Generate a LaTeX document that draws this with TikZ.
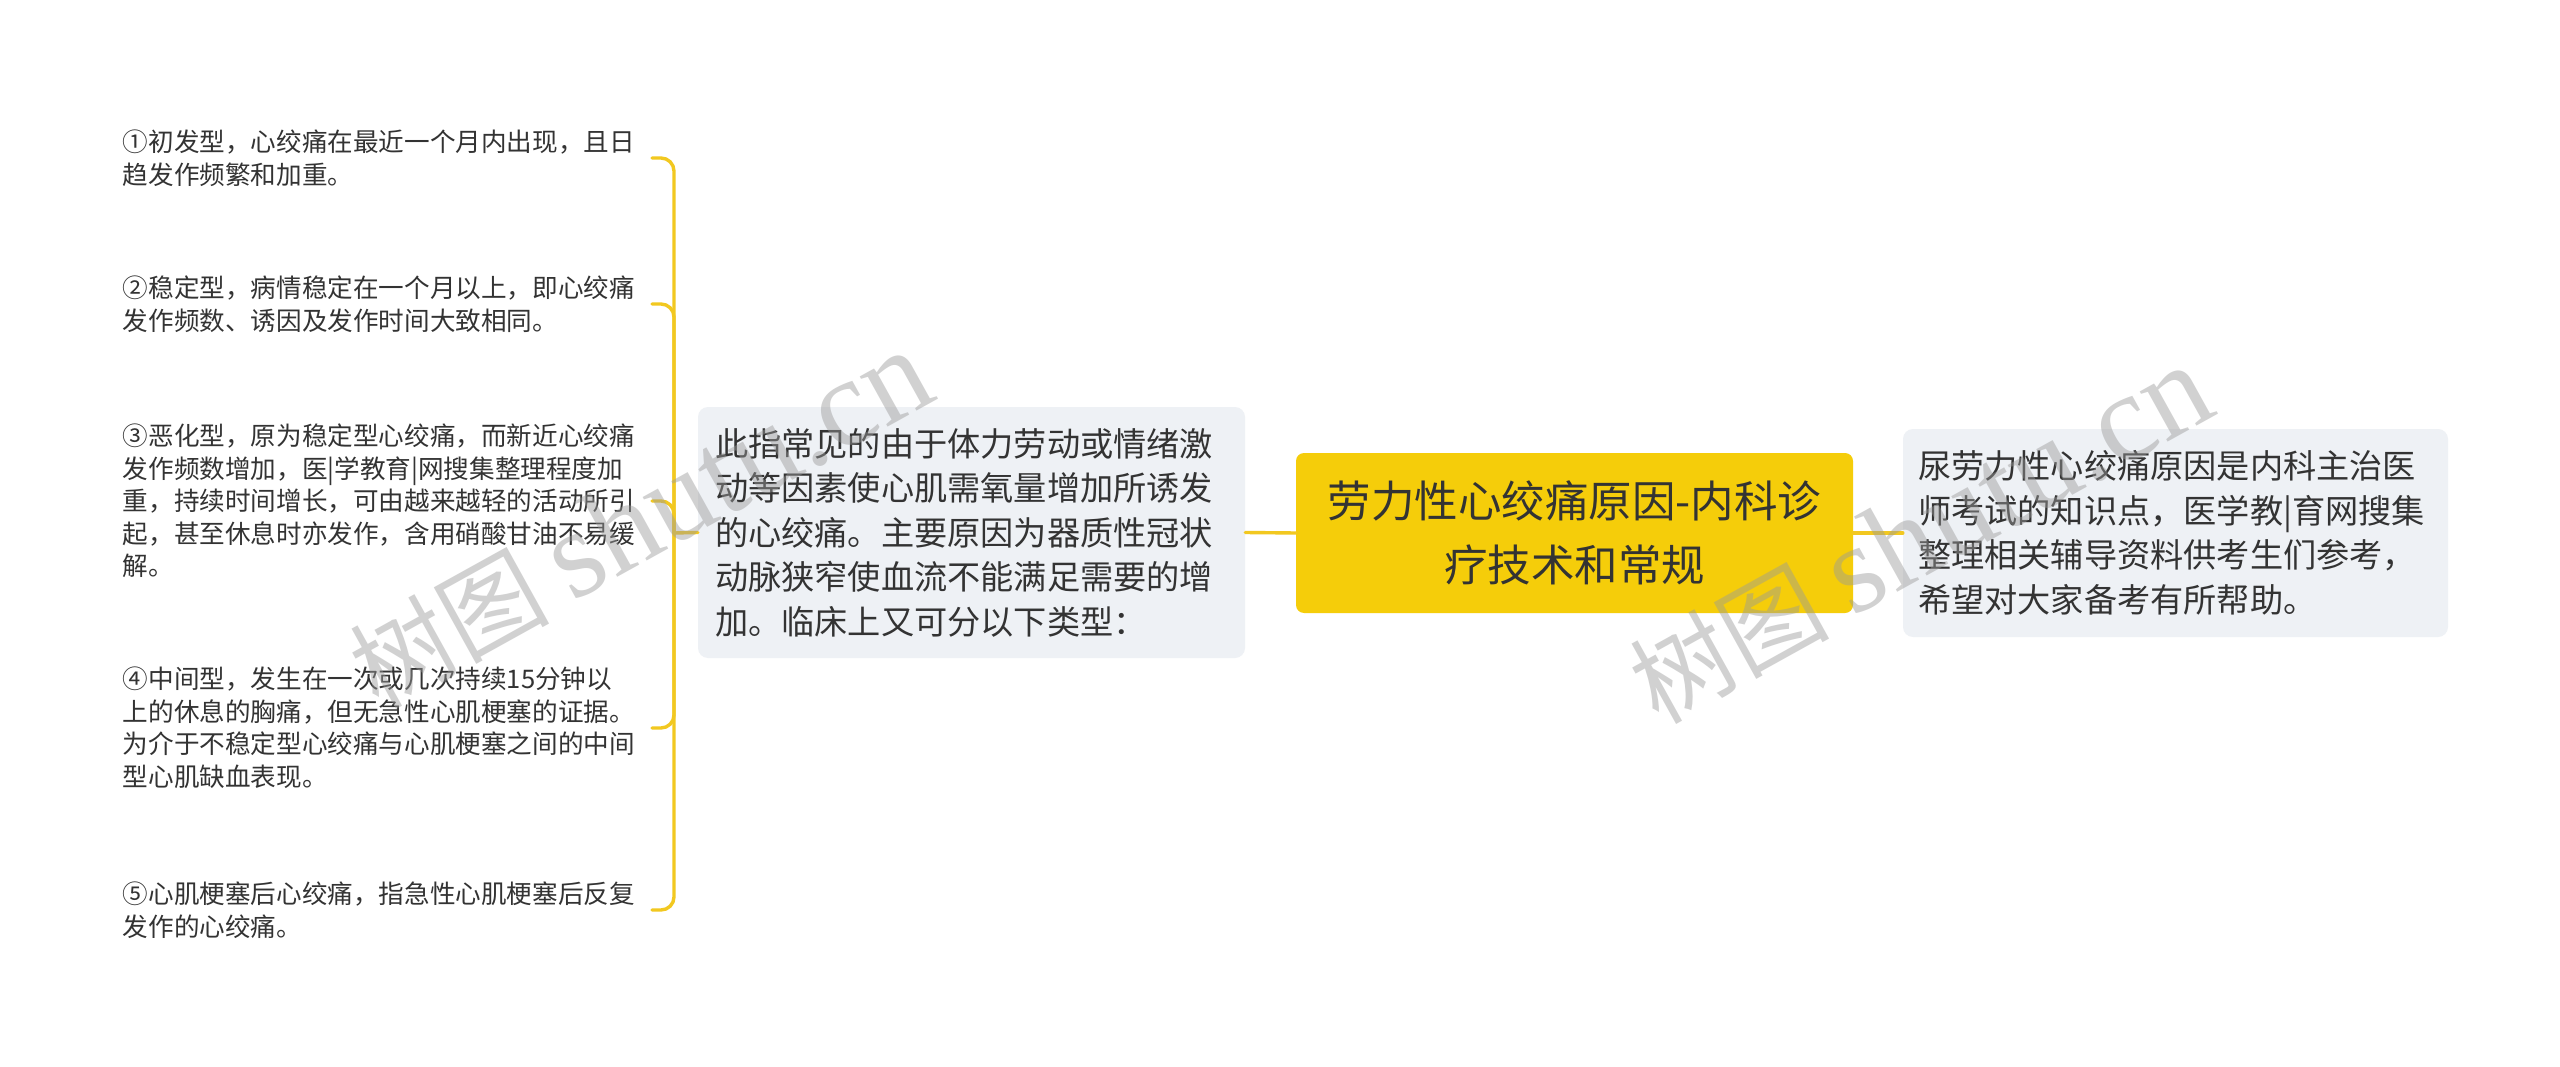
\documentclass[tikz,border=0pt]{standalone}
\usepackage{fontspec}
\setmainfont{Noto Sans CJK SC}
\newfontfamily\wmserif{Liberation Serif}
\definecolor{mmyellow}{HTML}{F5CD0A}
\definecolor{mmline}{HTML}{F2C820}
\definecolor{mmgray}{HTML}{EEF1F5}
\definecolor{mmtext}{HTML}{333333}
\definecolor{wmgray}{HTML}{9A9A9A}
\tikzset{
  rootbox/.style={rectangle, rounded corners=8, fill=mmyellow, text=mmtext,
    minimum width=557, minimum height=160, inner sep=0, align=center,
    font=\fontsize{43.5}{64}\selectfont},
  graybox/.style={rectangle, rounded corners=10, fill=mmgray, text=mmtext,
    align=left, inner ysep=0, font=\fontsize{33.2}{44.5}\selectfont},
  leaf/.style={rectangle, anchor=east, inner sep=0, text width=529, align=left,
    text=mmtext, font=\fontsize{25.6}{32.5}\selectfont},
  link/.style={draw=mmline, line width=3.4, line cap=round},
  wm/.style={text=wmgray, opacity=0.45, inner sep=0, font=\fontsize{100}{100}\selectfont}
}
\begin{document}
\begin{tikzpicture}[x=1pt,y=-1pt]
\useasboundingbox (0,0) rectangle (2560,1067);
\fill[white] (0,0) rectangle (2560,1067);

\node[rootbox] (root) at (1574.5,533) {劳力性心绞痛原因-内科诊\\疗技术和常规};

\node[graybox, text width=513, inner xsep=17, minimum height=251] (main) at (971.5,532.5)
  {此指常见的由于体力劳动或情绪激\\动等因素使心肌需氧量增加所诱发\\的心绞痛。主要原因为器质性冠状\\动脉狭窄使血流不能满足需要的增\\加。临床上又可分以下类型：};

\node[graybox, text width=515, inner xsep=15, minimum height=208] (right) at (2175.5,533)
  {尿劳力性心绞痛原因是内科主治医\\师考试的知识点，医学教|育网搜集\\整理相关辅导资料供考生们参考，\\希望对大家备考有所帮助。};

\node[leaf] (i1) at (652,158) {①初发型，心绞痛在最近一个月内出现，且日\\趋发作频繁和加重。};
\node[leaf] (i2) at (652,304) {②稳定型，病情稳定在一个月以上，即心绞痛\\发作频数、诱因及发作时间大致相同。};
\node[leaf] (i3) at (652,501) {③恶化型，原为稳定型心绞痛，而新近心绞痛\\发作频数增加，医|学教育|网搜集整理程度加\\重，持续时间增长，可由越来越轻的活动所引\\起，甚至休息时亦发作，含用硝酸甘油不易缓\\解。};
\node[leaf] (i4) at (652,728) {④中间型，发生在一次或几次持续15分钟以\\上的休息的胸痛，但无急性心肌梗塞的证据。\\为介于不稳定型心绞痛与心肌梗塞之间的中间\\型心肌缺血表现。};
\node[leaf] (i5) at (652,910) {⑤心肌梗塞后心绞痛，指急性心肌梗塞后反复\\发作的心绞痛。};

\coordinate (hub) at (674,533);

\draw[link] (root.east) -- (right.west);
\draw[link] (main.east) -- (root.west);
\draw[link] (main.west) -- (hub);
\foreach \i in {i1,i2,i3,i4,i5}{
  \draw[link, rounded corners=13] (hub) |- (\i.east);
}

\node[wm, rotate=29] (wm1) at (640,520) {树图 {\wmserif\fontsize{125}{125}\selectfont shutu.cn}};
\node[wm, rotate=29] (wm2) at (1920,535) {树图 {\wmserif\fontsize{125}{125}\selectfont shutu.cn}};
\end{tikzpicture}
\end{document}
